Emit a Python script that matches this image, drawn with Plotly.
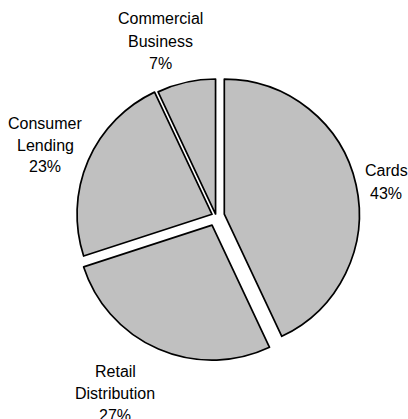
import plotly.graph_objects as go

# data
labels = ["Cards", "Retail Distribution", "Consumer Lending", "Commercial Business"]
label_lines = [["Cards"], ["Retail", "Distribution"], ["Consumer", "Lending"], ["Commercial", "Business"]]
values = [43, 27, 23, 7]

# style / layout
W, H = 408, 419
pulls = [0.063, 0.074, 0.032, 0.015]
# label block anchors: pixel coords of first line centre
label_anchor = [(386, 171), (115, 371), (45, 123), (160, 19)]
line_gap = 22

cx, cy, half = 216, 216, 145
fig = go.Figure(go.Pie(
    labels=labels,
    values=values,
    sort=False,
    direction="clockwise",
    rotation=0,
    pull=pulls,
    marker=dict(colors=["#C0C0C0"] * 4, line=dict(color="black", width=1.7)),
    textinfo="none",
    domain=dict(x=[(cx - half) / W, (cx + half) / W],
                y=[1 - (cy + half) / H, 1 - (cy - half) / H]),
    showlegend=False,
    hoverinfo="skip",
))

total = sum(values)
annotations = []
for lines, v, (ax, ay) in zip(label_lines, values, label_anchor):
    all_lines = lines + [f"{round(100 * v / total)}%"]
    for i, t in enumerate(all_lines):
        annotations.append(dict(
            text=t, x=ax / W, y=1 - (ay + i * line_gap) / H,
            xref="paper", yref="paper", xanchor="center", yanchor="middle",
            showarrow=False,
            font=dict(family="Liberation Sans, Arial", size=16, color="black"),
        ))

fig.update_layout(
    width=W, height=H,
    margin=dict(l=0, r=0, t=0, b=0),
    paper_bgcolor="white",
    plot_bgcolor="white",
    annotations=annotations,
)
fig.write_html("out.html",
               config={"displayModeBar": False},
               post_script="document.body.style.margin='0';document.body.style.overflow='hidden';")
